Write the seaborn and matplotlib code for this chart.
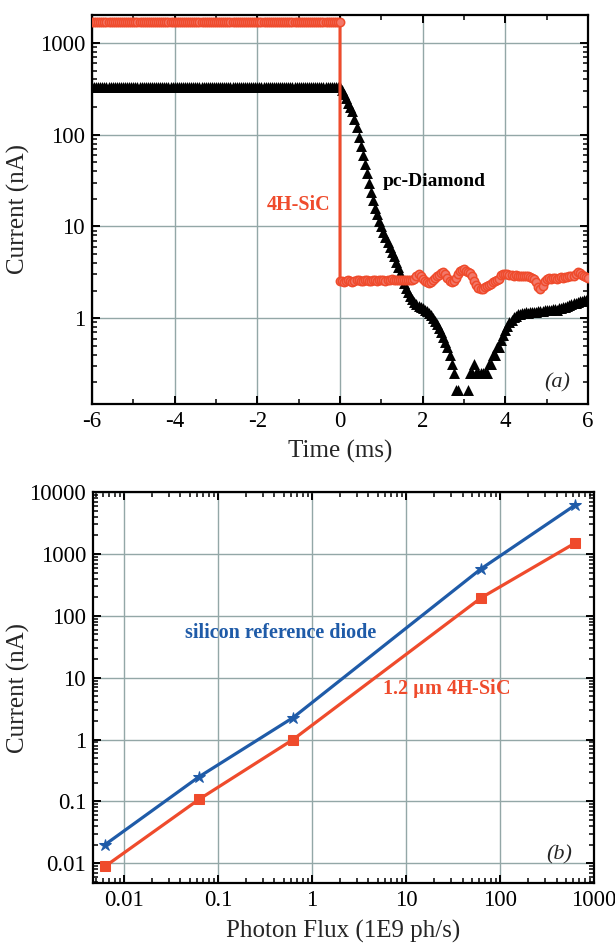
import numpy as np
import matplotlib
matplotlib.use("Agg")
import matplotlib.pyplot as plt
from matplotlib.ticker import LogLocator, NullFormatter, MultipleLocator, FixedLocator
import seaborn as sns

# ---------------- panel (a): current transient after beam shutter ----------------
time_ms = np.round(np.arange(-6.0, 6.0001, 0.05), 2)          # 241 samples, 0.05 ms apart

diamond_pre = [333] * 120                                      # -6 ... -0.05 ms
diamond_post = [
    330, 310, 280, 250, 220, 200, 180, 150, 120, 95,
    75, 60, 48, 38, 30, 24, 19.5, 16, 13.5, 11.5,
    10, 8.8, 7.7, 6.8, 6.0, 5.3, 4.7, 4.1, 3.6, 3.1,
    2.7, 2.4, 2.15, 1.95, 1.75, 1.6, 1.5, 1.42, 1.36, 1.32,
    1.28, 1.24, 1.2, 1.15, 1.08, 1.0, 0.93, 0.86, 0.78, 0.7,
    0.62, 0.55, 0.48, 0.4, 0.32, 0.25, 0.165, 0.165, 0.08, 0.08,
    0.08, 0.08, 0.165, 0.25, 0.25, 0.32, 0.25, 0.25, 0.25, 0.25,
    0.25, 0.25, 0.32, 0.32, 0.4, 0.4, 0.48, 0.48, 0.58, 0.65,
    0.74, 0.82, 0.9, 0.96, 1.02, 1.06, 1.1, 1.12, 1.14, 1.15,
    1.16, 1.15, 1.17, 1.18, 1.17, 1.18, 1.2, 1.2, 1.2, 1.22,
    1.22, 1.24, 1.22, 1.25, 1.25, 1.24, 1.28, 1.3, 1.32, 1.33,
    1.36, 1.38, 1.42, 1.45, 1.48, 1.5, 1.52, 1.54, 1.56, 1.58,
    1.6,
]
diamond_current = diamond_pre + diamond_post

sic_pre = [1690] * 121                                         # -6 ... 0 ms (beam on)
sic_post = [
    2.55, 2.55, 2.5, 2.55, 2.6, 2.55, 2.5, 2.55, 2.6, 2.6,
    2.55, 2.55, 2.6, 2.6, 2.55, 2.55, 2.6, 2.6, 2.55, 2.6,
    2.6, 2.6, 2.55, 2.6, 2.6, 2.65, 2.6, 2.6, 2.6, 2.6,
    2.6, 2.6, 2.6, 2.6, 2.6, 2.6, 2.65, 2.85, 3.05, 2.9,
    2.7, 2.55, 2.45, 2.4, 2.45, 2.6, 2.75, 2.85, 2.95, 3.1,
    3.15, 3.0, 2.75, 2.55, 2.45, 2.55, 2.75, 3.0, 3.25, 3.35,
    3.4, 3.3, 3.2, 3.1, 2.85, 2.55, 2.3, 2.15, 2.07, 2.1,
    2.2, 2.25, 2.3, 2.35, 2.45, 2.55, 2.6, 2.7, 2.95, 3.05,
    3.05, 3.0, 2.95, 2.95, 2.9, 2.95, 2.9, 2.9, 2.85, 2.9,
    2.85, 2.85, 2.8, 2.75, 2.65, 2.45, 2.2, 2.1, 2.25, 2.55,
    2.7, 2.75, 2.7, 2.75, 2.75, 2.7, 2.75, 2.8, 2.75, 2.8,
    2.8, 2.85, 2.85, 2.9, 3.0, 3.15, 3.1, 2.95, 2.85, 2.8,
    2.75,
]
# shutter closes at t = 0: the trace drops vertically from the plateau
sic_time = list(time_ms[:121]) + [0.0] + list(time_ms[121:])
sic_current = sic_pre + sic_post

# ---------------- panel (b): linearity versus photon flux ----------------
photon_flux = [0.0063, 0.063, 0.63, 63, 630]
si_diode_nA = [0.020, 0.25, 2.26, 575, 6150]
sic_diode_nA = [0.0089, 0.108, 1.0, 195, 1500]

x_ticks_a = [-6, -4, -2, 0, 2, 4, 6]
y_ticks_a = [1, 10, 100, 1000]
y_labels_a = ["1", "10", "100", "1000"]
x_ticks_b = [0.01, 0.1, 1, 10, 100, 1000]
x_labels_b = ["0.01", "0.1", "1", "10", "100", "1000"]
y_ticks_b = [0.01, 0.1, 1, 10, 100, 1000, 10000]
y_labels_b = ["0.01", "0.1", "1", "10", "100", "1000", "10000"]

RED = "#EF4B2C"
RED_FACE = "#F3786A"
BLUE = "#1F5BA8"
GRID = "#93A7A7"

sns.set_theme(style="ticks")
plt.rcParams["font.family"] = ["Liberation Serif", "DejaVu Serif"]
plt.rcParams["mathtext.fontset"] = "stix"

fig = plt.figure(figsize=(6.15, 9.49), dpi=100)
ax_a = fig.add_axes([0.1496, 0.5743, 0.8065, 0.4099])
ax_b = fig.add_axes([0.1512, 0.0695, 0.8146, 0.4120])


def style_axis(ax):
    ax.grid(True, which="major", color=GRID, lw=1.0)
    ax.set_axisbelow(True)
    for sp in ax.spines.values():
        sp.set_linewidth(1.6)
        sp.set_color("black")
    ax.tick_params(which="both", direction="in", top=True, right=True,
                   labelsize=16.5, colors="black", pad=5)
    ax.tick_params(which="major", length=6, width=1.4)
    ax.tick_params(which="minor", length=3.5, width=1.1)


# ---- (a)
sns.scatterplot(x=time_ms, y=diamond_current, ax=ax_a, marker="^", s=62,
                color="black", linewidth=0, zorder=3)
sns.lineplot(x=sic_time, y=sic_current, ax=ax_a, estimator=None, sort=False,
             color=RED, lw=2.2, marker="o", markersize=6,
             markerfacecolor=RED_FACE, markeredgecolor=RED, markeredgewidth=1.1,
             zorder=4)
ax_a.set_yscale("log")
ax_a.set_xlim(-6, 6)
ax_a.set_ylim(0.116, 2015)
ax_a.set_xticks(x_ticks_a)
ax_a.set_xticklabels([str(v) for v in x_ticks_a])
ax_a.xaxis.set_minor_locator(MultipleLocator(1))
ax_a.yaxis.set_major_locator(FixedLocator(y_ticks_a))
ax_a.set_yticklabels(y_labels_a)
ax_a.yaxis.set_minor_locator(LogLocator(base=10, subs=np.arange(2, 10)))
ax_a.yaxis.set_minor_formatter(NullFormatter())
style_axis(ax_a)
ax_a.set_xlabel("Time (ms)", fontsize=18)
ax_a.set_ylabel("Current (nA)", fontsize=18)
ax_a.xaxis.set_label_coords(0.5, -0.093)
ax_a.yaxis.set_label_coords(-0.125, 0.5)

ax_a.text(2.27, 30.8, "pc-Diamond", fontsize=14, fontweight="bold",
          color="black", ha="center", va="center")
ax_a.text(-0.22, 17.3, "4H-SiC", fontsize=14.5, fontweight="bold",
          color=RED, ha="right", va="center")
ax_a.text(5.25, 0.196, "(a)", fontsize=16, style="italic", ha="center", va="center")

# ---- (b)
sns.lineplot(x=photon_flux, y=si_diode_nA, ax=ax_b, color=BLUE, lw=2.3,
             marker="*", markersize=9, markeredgecolor=BLUE, markerfacecolor=BLUE,
             zorder=3)
sns.lineplot(x=photon_flux, y=sic_diode_nA, ax=ax_b, color=RED, lw=2.3,
             marker="s", markersize=6.5, markeredgecolor=RED, markerfacecolor=RED,
             zorder=3)
ax_b.set_xscale("log")
ax_b.set_yscale("log")
ax_b.set_xlim(0.0047, 1000)
ax_b.set_ylim(0.0048, 10000)
ax_b.xaxis.set_major_locator(FixedLocator(x_ticks_b))
ax_b.set_xticklabels(x_labels_b)
ax_b.yaxis.set_major_locator(FixedLocator(y_ticks_b))
ax_b.set_yticklabels(y_labels_b)
for axis in (ax_b.xaxis, ax_b.yaxis):
    axis.set_minor_locator(LogLocator(base=10, subs=np.arange(2, 10)))
    axis.set_minor_formatter(NullFormatter())
style_axis(ax_b)
ax_b.set_xlabel("Photon Flux (1E9 ph/s)", fontsize=18)
ax_b.set_ylabel("Current (nA)", fontsize=18)
ax_b.xaxis.set_label_coords(0.5, -0.095)
ax_b.yaxis.set_label_coords(-0.126, 0.5)

ax_b.text(0.468, 53, "silicon reference diode", fontsize=14.5, fontweight="bold",
          color=BLUE, ha="center", va="center")
ax_b.text(26.7, 6.66, "1.2 $\\mathbf{\\mu}$m 4H-SiC", fontsize=14.5, fontweight="bold",
          color=RED, ha="center", va="center")
ax_b.text(425, 0.0135, "(b)", fontsize=16, style="italic", ha="center", va="center")

fig.savefig("out.png", dpi=100)
